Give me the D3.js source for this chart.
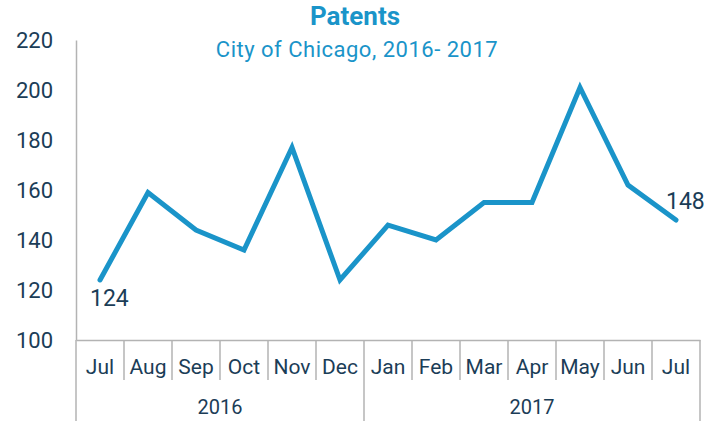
<!DOCTYPE html>
<html>
<head>
<meta charset="utf-8">
<title>Patents</title>
<script src="https://d3js.org/d3.v7.min.js"></script>
<style>
  body { margin: 0; background: #fff; }
  svg text { font-family: Roboto, "Open Sans", sans-serif; }
</style>
</head>
<body>
<div id="chart"></div>
<script>
// data
var months = ["Jul", "Aug", "Sep", "Oct", "Nov", "Dec", "Jan", "Feb", "Mar", "Apr", "May", "Jun", "Jul"];
var years = ["2016", "2016", "2016", "2016", "2016", "2016", "2017", "2017", "2017", "2017", "2017", "2017", "2017"];
var patents = [124, 159, 144, 136, 177, 124, 146, 140, 155, 155, 201, 162, 148];
var yTicks = [100, 120, 140, 160, 180, 200, 220];

var W = 721, H = 421;
var margin = {top: 40, right: 21, bottom: 81, left: 76};
var width = W - margin.left - margin.right,
    height = H - margin.top - margin.bottom;

var blue = "#1a94c9", navy = "#1b3d57", grey = "#b3b3b3";

var svg = d3.select("#chart").append("svg")
    .attr("width", W).attr("height", H);

// titles
svg.append("text")
    .attr("x", 355).attr("y", 25)
    .attr("text-anchor", "middle")
    .attr("font-size", 26).attr("font-weight", "bold")
    .attr("fill", blue)
    .text("Patents");
svg.append("text")
    .attr("x", 357).attr("y", 57)
    .attr("text-anchor", "middle")
    .attr("font-size", 22)
    .attr("letter-spacing", 0.5)
    .attr("fill", blue)
    .text("City of Chicago, 2016- 2017");

var g = svg.append("g")
    .attr("transform", "translate(" + margin.left + "," + margin.top + ")");

var idx = d3.range(patents.length);
var x = d3.scaleBand().domain(idx).range([0, width]).padding(0);
var y = d3.scaleLinear().domain([100, 220]).range([height, 0]);

// y axis
var yAxis = g.append("g")
    .call(d3.axisLeft(y).tickValues(yTicks).tickSize(0).tickPadding(23));
yAxis.select(".domain").attr("stroke", grey).attr("stroke-width", 1.5);
yAxis.selectAll("text").attr("font-size", 22).attr("fill", navy)
    .attr("dy", "0.36em")
    .style("font-family", "Roboto, sans-serif");

// x axis: month level
var xAxis = g.append("g")
    .attr("transform", "translate(0," + height + ")")
    .call(d3.axisBottom(x).tickSize(0).tickPadding(19).tickFormat(function(i) { return months[i]; }));
xAxis.select(".domain").attr("stroke", grey).attr("stroke-width", 1.5);
xAxis.selectAll("text").attr("font-size", 21).attr("fill", navy)
    .style("font-family", "Roboto, sans-serif");

// separators between months
var edges = d3.range(patents.length + 1);
g.selectAll(".sep").data(edges).enter().append("line")
    .attr("class", "sep")
    .attr("x1", function(i) { return i === patents.length ? width : x(i); })
    .attr("x2", function(i) { return i === patents.length ? width : x(i); })
    .attr("y1", height)
    .attr("y2", function(i) {
      var isYearEdge = i === 0 || i === patents.length || years[i] !== years[i - 1];
      return isYearEdge ? H - margin.top : height + 40;
    })
    .attr("stroke", grey).attr("stroke-width", 1.5);

// year labels
var yearGroups = d3.groups(idx, function(i) { return years[i]; });
g.selectAll(".year").data(yearGroups).enter().append("text")
    .attr("class", "year")
    .attr("x", function(d) {
      var first = d[1][0], last = d[1][d[1].length - 1];
      return (x(first) + x(last) + x.bandwidth()) / 2;
    })
    .attr("y", height + 74)
    .attr("text-anchor", "middle")
    .attr("font-size", 20).attr("fill", navy)
    .text(function(d) { return d[0]; });

// line
var line = d3.line()
    .x(function(i) { return x(i) + x.bandwidth() / 2; })
    .y(function(i) { return y(patents[i]); });
g.append("path")
    .datum(idx)
    .attr("fill", "none")
    .attr("stroke", blue)
    .attr("stroke-width", 5)
    .attr("stroke-linejoin", "miter")
    .attr("stroke-linecap", "round")
    .attr("d", line);

// end labels
var first = 0, last = patents.length - 1;
g.append("text")
    .attr("x", x(first) + x.bandwidth() / 2 - 10)
    .attr("y", y(patents[first]) + 26)
    .attr("font-size", 23).attr("fill", navy)
    .text(patents[first]);
g.append("text")
    .attr("x", x(last) + x.bandwidth() / 2 - 10)
    .attr("y", y(patents[last]) - 11)
    .attr("font-size", 23).attr("fill", navy)
    .text(patents[last]);
</script>
</body>
</html>
